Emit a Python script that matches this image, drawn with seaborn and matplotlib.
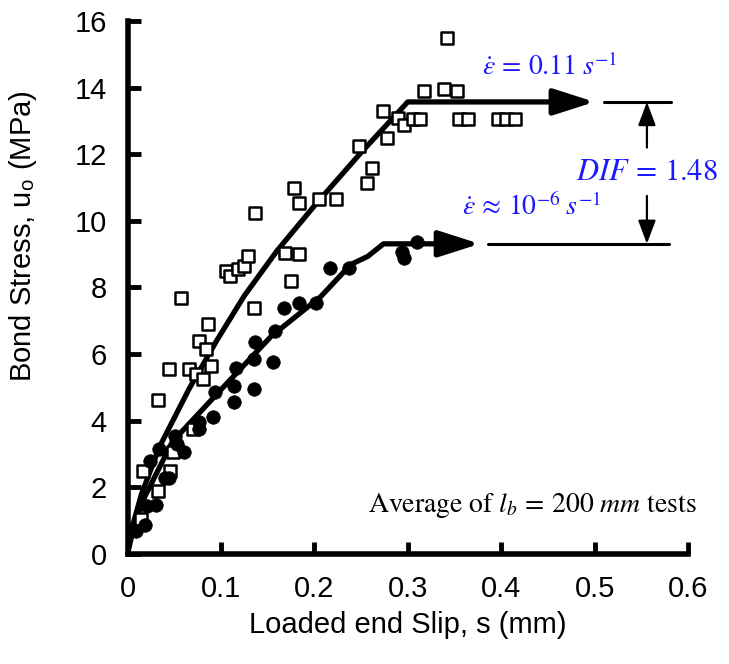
import numpy as np
import pandas as pd
import seaborn as sns
import matplotlib.pyplot as plt

# ---------------- data ----------------
# high strain rate tests (hollow squares)
sq_x = [0.014, 0.033, 0.017, 0.046, 0.049, 0.070, 0.033, 0.044, 0.066, 0.073,
        0.081, 0.089, 0.076, 0.084, 0.086, 0.057, 0.135, 0.175, 0.169, 0.184,
        0.105, 0.110, 0.118, 0.125, 0.129, 0.137, 0.178, 0.184, 0.205, 0.223,
        0.248, 0.262, 0.256, 0.274, 0.278, 0.290, 0.296, 0.306, 0.313, 0.317,
        0.339, 0.342, 0.353, 0.355, 0.365, 0.397, 0.405, 0.415]
sq_y = [1.04, 1.88, 2.48, 2.48, 3.07, 3.76, 4.63, 5.55, 5.55, 5.40,
        5.25, 5.64, 6.39, 6.15, 6.90, 7.67, 7.37, 8.18, 9.05, 9.00,
        8.48, 8.33, 8.56, 8.63, 8.93, 10.23, 10.98, 10.53, 10.66, 10.66,
        12.24, 11.58, 11.13, 13.30, 12.48, 13.10, 12.87, 13.07, 13.07, 13.90,
        13.97, 15.50, 13.90, 13.07, 13.07, 13.07, 13.07, 13.07]

# quasi-static tests (filled circles)
ci_x = [0.009, 0.019, 0.030, 0.021, 0.040, 0.044, 0.024, 0.034, 0.051, 0.061,
        0.053, 0.076, 0.076, 0.091, 0.094, 0.114, 0.114, 0.135, 0.116, 0.135,
        0.156, 0.137, 0.158, 0.167, 0.184, 0.202, 0.217, 0.237, 0.294, 0.296,
        0.310]
ci_y = [0.69, 0.87, 1.46, 1.43, 2.27, 2.27, 2.78, 3.16, 3.55, 3.07,
        3.30, 3.76, 3.97, 4.12, 4.87, 4.57, 5.05, 4.96, 5.58, 5.85,
        5.76, 6.36, 6.69, 7.37, 7.52, 7.52, 8.57, 8.57, 9.07, 8.87,
        9.37]

# average curves
fast_x = [0.0, 0.005, 0.015, 0.034, 0.066, 0.096, 0.125, 0.160, 0.200, 0.250, 0.300, 0.470]
fast_y = [0.0, 0.80, 1.80, 3.20, 4.96, 6.43, 7.75, 9.10, 10.45, 12.05, 13.57, 13.57]
slow_x = [0.0, 0.005, 0.016, 0.048, 0.101, 0.154, 0.207, 0.239, 0.257, 0.274, 0.350]
slow_y = [0.0, 0.60, 1.58, 3.37, 4.96, 6.54, 7.73, 8.69, 8.93, 9.31, 9.31]

fast_tip = 0.50
slow_tip = 0.377
fast_level = 13.57
slow_level = 9.31

x_ticks = [0, 0.1, 0.2, 0.3, 0.4, 0.5, 0.6]
x_tick_labels = ['0', '0.1', '0.2', '0.3', '0.4', '0.5', '0.6']
y_ticks = [0, 2, 4, 6, 8, 10, 12, 14, 16]

# ---------------- style ----------------
sns.set_theme(style='ticks')
plt.rcParams['font.family'] = ['Liberation Sans', 'DejaVu Sans']
plt.rcParams['mathtext.fontset'] = 'stix'

blue = '#1a1aff'

fig = plt.figure(figsize=(7.29, 6.64), dpi=100)
ax = fig.add_axes([0.1749, 0.1657, 0.7689, 0.8027])

sns.lineplot(x=fast_x, y=fast_y, ax=ax, color='black', lw=3.8, sort=False,
             estimator=None, zorder=2)
sns.lineplot(x=slow_x, y=slow_y, ax=ax, color='black', lw=3.8, sort=False,
             estimator=None, zorder=2)

for tip, lvl, start in [(fast_tip, fast_level, fast_x[-1]), (slow_tip, slow_level, slow_x[-1])]:
    ax.annotate('', xy=(tip, lvl), xytext=(start - 0.01, lvl),
                arrowprops=dict(arrowstyle='-|>,head_length=1.25,head_width=0.4',
                                mutation_scale=20, color='black', lw=3.8,
                                shrinkA=0, shrinkB=0), zorder=2)

sns.scatterplot(x=sq_x, y=sq_y, ax=ax, marker='s', s=75, facecolor='white',
                edgecolor='black', linewidth=1.8, zorder=4, clip_on=False)
sns.scatterplot(x=ci_x, y=ci_y, ax=ax, marker='o', s=95, color='black',
                edgecolor='black', linewidth=0.5, zorder=4, clip_on=False)

# DIF reference lines
ax.plot([0.51, 0.582], [fast_level, fast_level], color='black', lw=2.2)
ax.plot([0.386, 0.58], [slow_level, slow_level], color='black', lw=2.2)
ax.annotate('', xy=(0.556, fast_level), xytext=(0.556, 12.2),
            arrowprops=dict(arrowstyle='-|>,head_length=0.8,head_width=0.3',
                            mutation_scale=18, color='black', lw=1.6,
                            shrinkA=0, shrinkB=0))
ax.annotate('', xy=(0.556, slow_level), xytext=(0.556, 10.75),
            arrowprops=dict(arrowstyle='-|>,head_length=0.8,head_width=0.3',
                            mutation_scale=18, color='black', lw=1.6,
                            shrinkA=0, shrinkB=0))

ax.text(0.556, 11.47, r'$DIF\,=\,1.48$', color=blue, fontsize=22,
        ha='center', va='center')
ax.text(0.452, 14.6, r'$\dot{\varepsilon}\,=\,0.11\;s^{-1}$', color=blue, fontsize=20,
        ha='center', va='center')
ax.text(0.433, 10.4, r'$\dot{\varepsilon}\,\approx\,10^{-6}\;s^{-1}$', color=blue, fontsize=20,
        ha='center', va='center')
ax.text(0.609, 1.45, r'Average of $l_b\,=\,200\ mm$ tests', family='STIXGeneral',
        fontsize=20, ha='right', va='center', color='black')

ax.set_xlim(0, 0.6)
ax.set_ylim(0, 16)
ax.set_xticks(x_ticks)
ax.set_xticklabels(x_tick_labels)
ax.set_yticks(y_ticks)
ax.tick_params(direction='in', length=9, width=3.5, labelsize=21, pad=15,
               colors='black')
for s in ['left', 'bottom']:
    ax.spines[s].set_linewidth(4)
    ax.spines[s].set_color('black')
sns.despine(ax=ax)

ax.set_xlabel('Loaded end Slip, s (mm)', fontsize=21, labelpad=6, color='black')
ax.set_ylabel(r'Bond Stress, u$_\mathregular{o}$ (MPa)', fontsize=21, color='black')
ax.yaxis.set_label_coords(-0.158, 0.597)

fig.savefig('out.png', dpi=100)
